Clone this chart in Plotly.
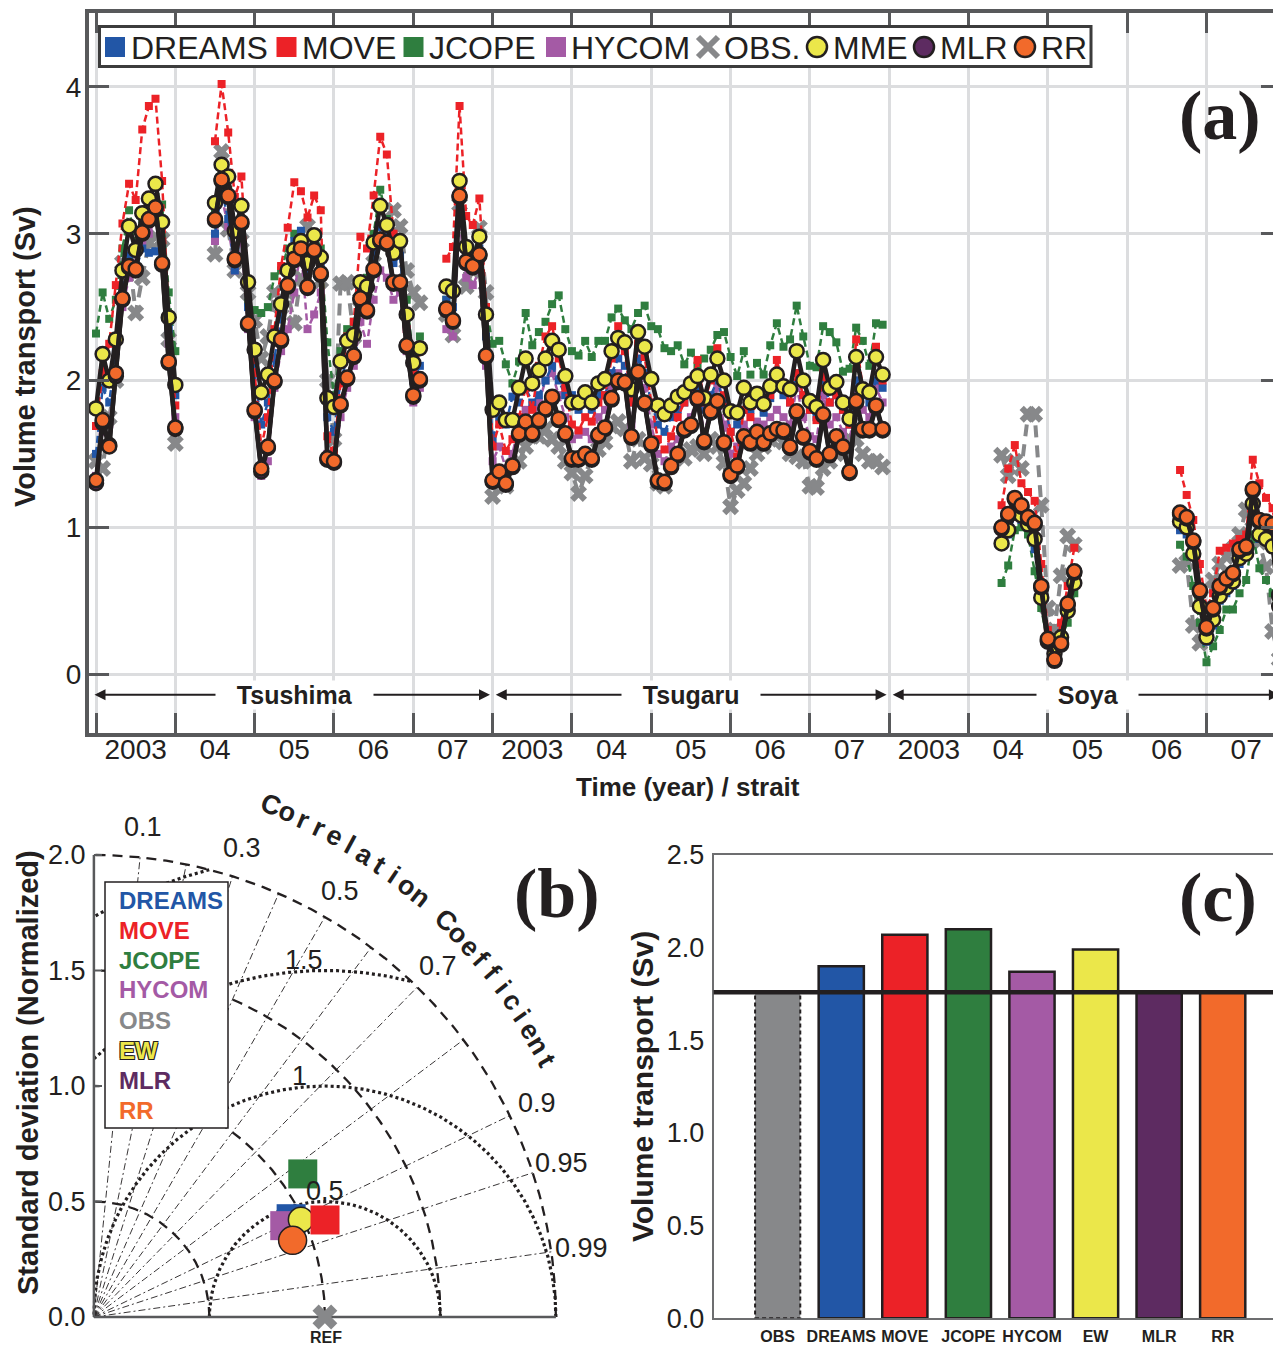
import math
import plotly.graph_objects as go

N = None
PAGE_W, PAGE_H = 1281, 1345
OFF = 8                      # default page margin of the html body
W, H = PAGE_W - OFF, PAGE_H - OFF
FONT = "Liberation Sans, Arial, Helvetica, sans-serif"
SERIF = "Liberation Serif, Times New Roman, serif"
INK = "#231f20"
AXIS_GRAY = "#58595b"
GRID_GRAY = "#dcdddf"

C_DREAMS = "#2256a6"
C_MOVE = "#ec2227"
C_JCOPE = "#2f7e3f"
C_HYCOM = "#a45aa5"
C_OBS = "#87888a"
C_MME = "#ebe74a"
C_MLR = "#5d2b61"
C_RR = "#f26a2b"

# ---------------- panel (a): monthly transports (Sv) ----------------
# month index: Tsushima 0-59, Tsugaru 60-119, Soya 120-179 (Jan 2003 - Dec 2007 each)
MONTHS = list(range(180))
YEAR_BOUNDARIES = [0, 12, 24, 36, 48, 60, 72, 84, 96, 108, 120, 132, 144, 156, 168]
YEAR_LABEL_POS = [6, 18, 30, 42, 54, 66, 78, 90, 102, 114, 126, 138, 150, 162, 174]
YEAR_LABELS = ["2003", "04", "05", "06", "07", "2003", "04", "05", "06", "07",
               "2003", "04", "05", "06", "07"]
STRAIT_NAMES = ["Tsushima", "Tsugaru", "Soya"]
STRAIT_MID = [30, 90, 150]
STRAIT_BOUNDS = [60, 120]

# --- Tsushima ---
RR_TSUSHIMA = [1.32, 1.73, 1.55, 2.05, 2.56, 2.78, 2.76, 3.01, 3.10, 3.18, 2.80, 2.13, 1.68] + [N] * 5 + \
    [3.10, 3.37, 3.26, 2.83, 3.08, 2.39, 1.80, 1.40, 1.55, 2.00, 2.28, 2.65, 2.83, 2.90, 2.64, 2.89,
     2.73, 1.47, 1.45, 1.84, 2.02, 2.17, 2.56, 2.48, 2.76, 2.96, 2.94, 2.67, 2.67, 2.24, 1.90, 2.01] + [N] * 3 + \
    [2.49, 2.41, 3.26, 2.81, 2.78, 2.86, 2.17]
MLR_TSUSHIMA = [1.30, 1.71, 1.56, 2.03, 2.55, 2.77, 2.75, 3.00, 3.09, 3.17, 2.79, 2.12, 1.67] + [N] * 5 + \
    [3.09, 3.36, 3.25, 2.82, 3.07, 2.38, 1.79, 1.38, 1.54, 1.99, 2.27, 2.64, 2.82, 2.89, 2.63, 2.88,
     2.72, 1.46, 1.44, 1.83, 2.01, 2.16, 2.55, 2.47, 2.75, 2.95, 2.93, 2.66, 2.66, 2.23, 1.89, 2.00] + [N] * 3 + \
    [2.48, 2.40, 3.25, 2.80, 2.77, 2.85, 2.16]
MME_TSUSHIMA = [1.81, 2.18, 2.00, 2.28, 2.75, 3.05, 2.89, 3.14, 3.24, 3.34, 3.08, 2.43, 1.97] + [N] * 5 + \
    [3.21, 3.47, 3.39, 3.02, 3.19, 2.67, 2.21, 1.92, 2.04, 2.30, 2.52, 2.75, 2.89, 2.95, 2.80, 2.99,
     2.84, 1.88, 1.82, 2.13, 2.27, 2.31, 2.67, 2.64, 2.94, 3.19, 3.06, 2.87, 2.95, 2.45, 2.12, 2.22] + [N] * 3 + \
    [2.64, 2.61, 3.36, 2.91, 2.80, 2.98, 2.45]
MOVE_TSUSHIMA = [1.69, 2.05, 2.25, 2.65, 3.07, 3.34, 3.23, 3.71, 3.87, 3.92, 3.36, 2.45, 1.83] + [N] * 5 + \
    [3.63, 4.02, 3.69, 3.25, 3.39, 2.65, 2.05, 1.55, 1.75, 2.35, 2.78, 3.04, 3.35, 3.29, 3.11, 3.26,
     3.16, 1.62, 1.52, 1.98, 2.30, 2.40, 2.98, 2.90, 3.26, 3.66, 3.54, 3.00, 2.95, 2.35, 2.05, 2.20] + [N] * 3 + \
    [2.83, 2.91, 3.87, 3.12, 3.06, 3.24, 2.50]
JCOPE_TSUSHIMA = [2.32, 2.60, 2.42, 2.55, 2.90, 3.16, 2.95, 3.10, 3.15, 3.25, 3.20, 2.60, 2.20] + [N] * 5 + \
    [3.15, 3.40, 3.30, 3.00, 3.10, 2.53, 2.48, 2.46, 2.50, 2.71, 2.75, 2.90, 3.00, 3.00, 2.85, 3.00,
     2.90, 2.26, 1.90, 2.20, 2.35, 2.40, 2.60, 2.70, 3.00, 3.30, 3.10, 2.90, 2.95, 2.55, 2.15, 2.30] + [N] * 3 + \
    [2.55, 2.60, 3.30, 2.90, 2.85, 3.00, 2.50]
DREAMS_TSUSHIMA = [1.50, 1.95, 1.85, 2.20, 2.60, 2.85, 2.75, 2.90, 2.87, 2.88, 2.85, 2.35, 1.90] + [N] * 5 + \
    [3.00, 3.30, 3.10, 2.75, 3.05, 2.50, 2.05, 1.70, 1.85, 2.15, 2.45, 2.70, 2.95, 3.02, 2.75, 2.95,
     2.80, 1.75, 1.65, 2.00, 2.15, 2.20, 2.60, 2.55, 2.85, 3.05, 3.00, 2.80, 2.85, 2.35, 2.00, 2.10] + [N] * 3 + \
    [2.55, 2.50, 3.20, 2.85, 2.75, 2.90, 2.30]
HYCOM_TSUSHIMA = [1.35, 1.65, 1.70, 2.05, 2.50, 2.70, 2.80, 2.95, 3.00, 3.10, 2.90, 2.25, 1.75] + [N] * 5 + \
    [2.95, 3.25, 3.05, 2.75, 2.95, 2.35, 1.75, 1.35, 1.45, 1.95, 2.20, 2.35, 2.60, 2.90, 2.35, 2.45,
     2.60, 1.50, 1.42, 1.75, 1.95, 2.10, 2.40, 2.25, 2.55, 2.75, 2.70, 2.55, 2.60, 2.20, 1.85, 1.95] + [N] * 3 + \
    [2.35, 2.30, 3.10, 2.70, 2.65, 2.75, 2.10]
OBS_TSUSHIMA = [1.45, 1.40, 1.75, 2.00, 2.80, 2.85, 2.46, 2.70, 2.94, 2.98, 2.96, 2.28, 1.57] + [N] * 5 + \
    [2.86, 3.56, 3.03, 2.75, 2.95, 2.60, 2.41, 2.15, 2.30, 2.60, 2.50, 2.60, 2.39, 2.70, 3.05, 2.95,
     2.68, 2.00, 1.60, 2.66, 2.67, 2.30, 2.55, 2.60, 2.80, 2.95, 3.05, 3.16, 3.05, 2.75, 2.60, 2.53] + [N] * 3 + \
    [2.45, 2.31, 3.20, 2.64, 2.75, 3.04, 2.60]

# --- Tsugaru ---
RR_TSUGARU = [1.32, 1.38, 1.30, 1.42, 1.64, 1.72, 1.64, 1.73, 1.81, 1.89, 1.74, 1.64, 1.47, 1.47, 1.50,
              1.47, 1.63, 1.68, 1.88, 2.00, 1.99, 1.62, 2.06, 1.85, 1.57, 1.32, 1.31, 1.42, 1.50, 1.67,
              1.70, 1.88, 1.59, 1.79, 1.86, 1.58, 1.36, 1.42, 1.62, 1.58, 1.65, 1.58, 1.64, 1.67, 1.66,
              1.55, 1.79, 1.62, 1.52, 1.47, 1.77, 1.50, 1.62, 1.55, 1.38, 1.86, 1.67, 1.67, 1.83, 1.67]
MLR_TSUGARU = [1.31, 1.37, 1.29, 1.41, 1.63, 1.71, 1.63, 1.72, 1.80, 1.88, 1.73, 1.63, 1.46, 1.46, 1.49,
               1.46, 1.62, 1.67, 1.87, 1.99, 1.98, 1.61, 2.05, 1.84, 1.56, 1.31, 1.30, 1.41, 1.49, 1.66,
               1.69, 1.87, 1.58, 1.78, 1.85, 1.57, 1.35, 1.41, 1.61, 1.57, 1.64, 1.57, 1.63, 1.66, 1.65,
               1.54, 1.78, 1.61, 1.51, 1.46, 1.76, 1.49, 1.61, 1.54, 1.37, 1.85, 1.66, 1.66, 1.82, 1.66]
MME_TSUGARU = [1.80, 1.85, 1.73, 1.73, 1.95, 2.15, 1.98, 2.07, 2.15, 2.27, 2.21, 2.03, 1.85, 1.85, 1.92,
               1.85, 1.98, 2.01, 2.20, 2.29, 2.26, 1.94, 2.33, 2.23, 2.01, 1.83, 1.77, 1.83, 1.89, 1.92,
               1.98, 2.03, 1.88, 2.04, 2.15, 2.00, 1.79, 1.78, 1.95, 1.85, 1.91, 1.84, 1.96, 2.04, 1.96,
               1.94, 2.20, 2.00, 1.86, 1.82, 2.14, 1.95, 1.99, 1.85, 1.74, 2.16, 1.94, 1.92, 2.16, 2.04]
MOVE_TSUGARU = [1.55, 1.70, 1.52, 1.60, 1.75, 1.95, 1.80, 2.10, 2.30, 2.37, 2.15, 1.95, 1.70, 1.66, 1.75,
                1.72, 1.85, 1.90, 2.15, 2.37, 2.20, 1.85, 2.25, 2.16, 1.85, 1.60, 1.53, 1.62, 1.75, 1.85,
                1.95, 2.14, 1.85, 2.00, 2.22, 1.90, 1.65, 1.48, 1.80, 1.75, 1.85, 1.82, 1.90, 2.14, 1.95,
                1.85, 2.05, 1.90, 1.80, 1.73, 2.05, 1.85, 1.90, 1.80, 1.70, 2.28, 1.95, 1.90, 2.23, 2.00]
JCOPE_TSUGARU = [2.25, 2.27, 2.11, 1.98, 2.13, 2.46, 2.24, 2.33, 2.40, 2.52, 2.58, 2.35, 2.20, 2.17, 2.27,
                 2.16, 2.27, 2.27, 2.43, 2.49, 2.41, 2.35, 2.46, 2.51, 2.37, 2.35, 2.22, 2.20, 2.24, 2.11,
                 2.19, 2.10, 2.15, 2.21, 2.31, 2.33, 2.16, 2.03, 2.20, 2.04, 2.12, 2.04, 2.24, 2.39, 2.23,
                 2.28, 2.51, 2.30, 2.10, 2.09, 2.37, 2.33, 2.26, 2.06, 2.08, 2.36, 2.27, 2.10, 2.39, 2.38]
DREAMS_TSUGARU = [1.60, 1.75, 1.70, 1.89, 1.85, 1.95, 1.85, 1.90, 2.00, 2.10, 2.00, 1.90, 1.90, 1.80, 1.85,
                  1.80, 1.90, 1.90, 2.05, 2.15, 2.10, 1.85, 2.15, 2.05, 1.85, 1.70, 1.65, 1.75, 1.80, 1.85,
                  1.95, 1.95, 1.80, 1.90, 2.00, 1.85, 1.65, 1.70, 1.80, 1.80, 1.85, 1.78, 1.88, 1.95, 1.90,
                  1.85, 2.05, 1.90, 1.80, 1.75, 2.00, 1.85, 1.90, 1.80, 1.70, 2.00, 1.90, 1.85, 2.00, 1.95]
HYCOM_TSUGARU = [1.45, 1.55, 1.40, 1.50, 1.70, 1.80, 1.72, 1.85, 2.00, 2.05, 1.90, 1.75, 1.60, 1.63, 1.65,
                 1.60, 1.75, 1.80, 1.95, 2.05, 2.00, 1.70, 2.05, 1.95, 1.70, 1.50, 1.45, 1.55, 1.60, 1.70,
                 1.75, 1.90, 1.65, 1.80, 1.95, 1.70, 1.50, 1.55, 1.70, 1.65, 1.72, 1.70, 1.75, 1.80, 1.75,
                 1.70, 1.95, 1.75, 1.62, 1.60, 1.90, 1.70, 1.75, 1.65, 1.55, 2.00, 1.80, 1.75, 1.95, 1.85]
OBS_TSUGARU = [1.21, 1.30, 1.28, 1.42, 1.45, 1.55, 1.62, 1.62, 1.67, 1.60, 1.55, 1.45, 1.37, 1.23, 1.35,
               1.49, 1.53, 1.58, 1.69, 1.72, 1.67, 1.45, 1.60, 1.47, 1.43, 1.30, 1.28, 1.43, 1.50, 1.47,
               1.53, 1.55, 1.50, 1.60, 1.55, 1.44, 1.14, 1.25, 1.30, 1.40, 1.50, 1.55, 1.60, 1.62, 1.58,
               1.50, 1.48, 1.45, 1.28, 1.27, 1.40, 1.45, 1.50, 1.52, 1.60, 1.60, 1.50, 1.45, 1.45, 1.41]

# --- Soya ---
RR_SOYA = [N] * 17 + [1.00, 1.09, 1.20, 1.15, 1.07, 1.03, 0.60, 0.24, 0.10, 0.21, 0.48, 0.70] + [N] * 15 + \
    [1.10, 1.07, 0.91, 0.57, 0.32, 0.45, 0.60, 0.65, 0.69, 0.85, 0.87, 1.26, 1.05, 1.04, 1.02, 0.54]
MLR_SOYA = [N] * 17 + [0.99, 1.08, 1.19, 1.14, 1.06, 1.02, 0.59, 0.23, 0.09, 0.20, 0.47, 0.69] + [N] * 15 + \
    [1.09, 1.06, 0.90, 0.56, 0.31, 0.44, 0.59, 0.64, 0.68, 0.84, 0.86, 1.25, 1.04, 1.03, 1.01, 0.53]
MME_SOYA = [N] * 17 + [0.89, 0.98, 1.10, 1.08, 1.02, 0.92, 0.52, 0.22, 0.14, 0.25, 0.43, 0.62] + [N] * 15 + \
    [1.04, 1.00, 0.82, 0.46, 0.25, 0.37, 0.53, 0.59, 0.63, 0.79, 0.82, 1.16, 0.95, 0.92, 0.87, 0.46]
MOVE_SOYA = [N] * 17 + [1.15, 1.40, 1.56, 1.30, 1.24, 1.18, 0.75, 0.30, 0.15, 0.35, 0.60, 0.86] + [N] * 15 + \
    [1.39, 1.22, 1.05, 0.75, 0.45, 0.55, 0.84, 0.86, 0.89, 0.92, 0.95, 1.46, 1.30, 1.20, 1.13, 0.80]
JCOPE_SOYA = [N] * 17 + [0.62, 0.74, 0.98, 1.00, 0.95, 0.70, 0.45, 0.20, 0.18, 0.25, 0.35, 0.55] + [N] * 15 + \
    [0.88, 0.80, 0.60, 0.35, 0.08, 0.19, 0.30, 0.44, 0.44, 0.55, 0.64, 0.95, 0.72, 0.64, 0.55, 0.30]
DREAMS_SOYA = [N] * 17 + [0.90, 0.95, 1.08, 1.05, 1.00, 0.85, 0.50, 0.25, 0.15, 0.28, 0.45, 0.65] + [N] * 15 + \
    [0.98, 0.95, 0.80, 0.45, 0.22, 0.33, 0.50, 0.55, 0.60, 0.75, 0.80, 1.10, 0.92, 0.90, 0.85, 0.45]
HYCOM_SOYA = [N] * 17 + [0.95, 1.05, 1.15, 1.12, 1.05, 0.95, 0.55, 0.25, 0.12, 0.22, 0.50, 0.72] + [N] * 15 + \
    [1.00, 0.98, 0.85, 0.50, 0.28, 0.40, 0.55, 0.60, 0.65, 0.80, 0.85, 1.20, 1.00, 0.98, 0.95, 0.50]
OBS_SOYA = [N] * 17 + [1.49, 1.35, 1.45, 1.40, 1.77, 1.77, 1.15, 0.45, 0.30, 0.67, 0.94, 0.88] + [N] * 15 + \
    [0.74, 0.76, 0.33, 0.21, 0.45, 0.64, 0.75, 0.80, 0.85, 0.95, 1.12, 1.05, 0.90, 0.73, 0.29, 0.10]

# ---------------- panel (b): Taylor diagram ----------------
TAYLOR_MODELS = ["DREAMS", "HYCOM", "EW", "MOVE", "JCOPE", "MLR", "RR"]  # drawing order
TAYLOR_STD = [0.954, 0.916, 0.990, 1.085, 1.096, 0.922, 0.922]
TAYLOR_CORR = [0.895, 0.902, 0.905, 0.922, 0.825, 0.933, 0.933]
REF_STD = 1.0
STD_GRID = [0.5, 1.0, 1.5, 2.0]
RMS_GRID = [0.5, 1.0, 1.5, 2.0]
RMS_LABELS = ["0.5", "1", "1.5"]
CORR_GRID = [0.1, 0.2, 0.3, 0.4, 0.5, 0.6, 0.7, 0.8, 0.9, 0.95, 0.99]
CORR_LABELS = ["0.1", "0.3", "0.5", "0.7", "0.9", "0.95", "0.99"]
STD_TICKS = [0.0, 0.5, 1.0, 1.5, 2.0]
TAYLOR_LEGEND = ["DREAMS", "MOVE", "JCOPE", "HYCOM", "OBS", "EW", "MLR", "RR"]

# ---------------- panel (c): mean transport ----------------
BAR_LABELS = ["OBS", "DREAMS", "MOVE", "JCOPE", "HYCOM", "EW", "MLR", "RR"]
BAR_VALUES = [1.76, 1.90, 2.07, 2.10, 1.87, 1.99, 1.76, 1.76]

COLORS = {"DREAMS": C_DREAMS, "MOVE": C_MOVE, "JCOPE": C_JCOPE, "HYCOM": C_HYCOM,
          "OBS": C_OBS, "EW": C_MME, "MME": C_MME, "MLR": C_MLR, "RR": C_RR}

for arr in [RR_TSUSHIMA, MLR_TSUSHIMA, MME_TSUSHIMA, MOVE_TSUSHIMA, JCOPE_TSUSHIMA, DREAMS_TSUSHIMA,
            HYCOM_TSUSHIMA, OBS_TSUSHIMA, RR_TSUGARU, MLR_TSUGARU, MME_TSUGARU, MOVE_TSUGARU,
            JCOPE_TSUGARU, DREAMS_TSUGARU, HYCOM_TSUGARU, OBS_TSUGARU, RR_SOYA, MLR_SOYA, MME_SOYA,
            MOVE_SOYA, JCOPE_SOYA, DREAMS_SOYA, HYCOM_SOYA, OBS_SOYA]:
    assert len(arr) == 60, len(arr)


def px(x):
    """page pixel x -> paper fraction"""
    return (x - OFF) / W


def py(y):
    """page pixel y -> paper fraction"""
    return 1 - (y - OFF) / H


fig = go.Figure()


def ts(y, lcolor, lwidth, ldash, symbol, msize, mcolor, mline_color=None, mline_width=0):
    fig.add_trace(go.Scatter(
        x=MONTHS, y=y, mode="lines+markers", connectgaps=False,
        line=dict(color=lcolor, width=lwidth, dash=ldash),
        marker=dict(symbol=symbol, size=msize, color=mcolor,
                    line=dict(color=mline_color or mcolor, width=mline_width)),
        xaxis="x", yaxis="y", showlegend=False, hoverinfo="skip"))


ts(OBS_TSUSHIMA + OBS_TSUGARU + OBS_SOYA, C_OBS, 4, "12px,8px", "x", 15, C_OBS)
ts(JCOPE_TSUSHIMA + JCOPE_TSUGARU + JCOPE_SOYA, C_JCOPE, 2.5, "7px,4px", "square", 8, C_JCOPE)
ts(HYCOM_TSUSHIMA + HYCOM_TSUGARU + HYCOM_SOYA, C_HYCOM, 2.5, "7px,4px", "square", 8, C_HYCOM)
ts(DREAMS_TSUSHIMA + DREAMS_TSUGARU + DREAMS_SOYA, C_DREAMS, 2.5, "7px,4px", "square", 8, C_DREAMS)
ts(MOVE_TSUSHIMA + MOVE_TSUGARU + MOVE_SOYA, C_MOVE, 2.5, "7px,4px", "square", 8, C_MOVE)
ts(MME_TSUSHIMA + MME_TSUGARU + MME_SOYA, INK, 4.5, "solid", "circle", 14, C_MME, INK, 2.5)
ts(MLR_TSUSHIMA + MLR_TSUGARU + MLR_SOYA, INK, 4.5, "solid", "circle", 14, C_MLR, INK, 2.5)
ts(RR_TSUSHIMA + RR_TSUGARU + RR_SOYA, INK, 4.5, "solid", "circle", 14, C_RR, INK, 2.5)

# dummy trace so the year-label axis is drawn
fig.add_trace(go.Scatter(x=YEAR_LABEL_POS, y=[N] * len(YEAR_LABEL_POS), mode="markers",
                         xaxis="x2", yaxis="y", showlegend=False, hoverinfo="skip"))


# ---------------- Taylor diagram geometry ----------------
def tline(xs, ys, color=INK, width=1.0, dash="solid"):
    fig.add_trace(go.Scatter(x=xs, y=ys, mode="lines", line=dict(color=color, width=width, dash=dash),
                             xaxis="x3", yaxis="y3", showlegend=False, hoverinfo="skip"))


for c in CORR_GRID:
    s = math.sqrt(1 - c * c)
    tline([0, 2.0 * c], [0, 2.0 * s], INK, 0.9, "7px,3px,2px,3px")

for r in STD_GRID:
    angs = [math.radians(a * 0.5) for a in range(0, 181)]
    tline([r * math.cos(a) for a in angs], [r * math.sin(a) for a in angs], INK, 2.3, "10px,7px")

for R in RMS_GRID:
    xs, ys = [], []
    for k in range(0, 721):
        phi = math.radians(k * 0.25)
        x = REF_STD + R * math.cos(phi)
        y = R * math.sin(phi)
        if x >= -1e-9 and x * x + y * y <= 4.0 + 1e-9:
            xs.append(x)
            ys.append(y)
    tline(xs, ys, INK, 3.2, "3px,3px")

tline([0, 0], [0, 2.0], AXIS_GRAY, 2.5)
tline([0, 2.0], [0, 0], AXIS_GRAY, 2.5)
for v in STD_TICKS:
    tline([0, 0.035], [v, v], AXIS_GRAY, 2)

# markers
for name, s, c in zip(TAYLOR_MODELS, TAYLOR_STD, TAYLOR_CORR):
    circle = name in ("EW", "MLR", "RR")
    size = {"EW": 25, "MLR": 27, "RR": 28}.get(name, 29)
    fig.add_trace(go.Scatter(
        x=[s * c], y=[s * math.sqrt(1 - c * c)], mode="markers",
        marker=dict(symbol="circle" if circle else "square", size=size, color=COLORS[name],
                    line=dict(color=INK, width=1.5 if circle else 0)),
        xaxis="x3", yaxis="y3", showlegend=False, hoverinfo="skip"))
fig.add_trace(go.Scatter(x=[REF_STD], y=[0], mode="markers",
                         marker=dict(symbol="x", size=22, color=C_OBS),
                         xaxis="x3", yaxis="y3", showlegend=False, hoverinfo="skip", cliponaxis=False))

# ---------------- bar chart ----------------
fig.add_trace(go.Bar(
    x=BAR_LABELS, y=BAR_VALUES, width=0.711,
    marker=dict(color=[COLORS[b] for b in BAR_LABELS],
                line=dict(color=INK, width=[0] + [2.5] * (len(BAR_LABELS) - 1))),
    xaxis="x4", yaxis="y4", showlegend=False, hoverinfo="skip"))

# ---------------- layout ----------------
XR_A = [-1.06, 179.27]
tickfont = dict(family=FONT, size=28, color=INK)
TAY_SCALE = 231.0
TAY_X0, TAY_Y0 = 93.9, 1317.0  # page pixel of the Taylor origin
fig.update_layout(
    width=W, height=H, margin=dict(l=0, r=0, t=0, b=0, autoexpand=False),
    paper_bgcolor="white", plot_bgcolor="white", showlegend=False,
    xaxis=dict(domain=[px(89), 1.0], range=XR_A, tickvals=YEAR_BOUNDARIES, showticklabels=False,
               ticks="inside", ticklen=20, tickwidth=3, tickcolor=AXIS_GRAY,
               showgrid=True, gridcolor=GRID_GRAY, gridwidth=3,
               showline=True, linecolor=AXIS_GRAY, linewidth=4, mirror="ticks",
               zeroline=False, anchor="y", automargin=False),
    xaxis2=dict(overlaying="x", anchor="y", side="bottom", range=XR_A,
                tickvals=YEAR_LABEL_POS, ticktext=YEAR_LABELS, ticks="", tickangle=0,
                showgrid=False, showline=False, zeroline=False, tickfont=tickfont,
                ticklabelstandoff=-3, automargin=False),
    yaxis=dict(domain=[py(733.3), py(13.3)], range=[-0.404, 4.502], tickvals=[0, 1, 2, 3, 4],
               ticks="inside", ticklen=20, tickwidth=3, tickcolor=AXIS_GRAY,
               showgrid=True, gridcolor=GRID_GRAY, gridwidth=3,
               showline=True, linecolor=AXIS_GRAY, linewidth=4, mirror="ticks",
               zeroline=False, tickfont=tickfont, ticklabelstandoff=-2, anchor="x",
               automargin=False),
    xaxis3=dict(domain=[px(OFF), px(650)],
                range=[(OFF - TAY_X0) / TAY_SCALE, (650 - TAY_X0) / TAY_SCALE],
                visible=False, anchor="y3", automargin=False),
    yaxis3=dict(domain=[py(PAGE_H), py(790)],
                range=[(TAY_Y0 - PAGE_H) / TAY_SCALE, (TAY_Y0 - 790) / TAY_SCALE],
                visible=False, anchor="x3", automargin=False),
    xaxis4=dict(domain=[px(713.6), 1.0], range=[-1.008, 7.917], anchor="y4",
                tickvals=BAR_LABELS, ticktext=["<b>%s</b>" % b for b in BAR_LABELS],
                tickfont=dict(family=FONT, size=16, color=INK), ticks="", tickangle=0,
                showline=True, linecolor="#6d6e70", linewidth=2, mirror=True,
                showgrid=False, zeroline=False, automargin=False, ticklabelstandoff=2),
    yaxis4=dict(domain=[py(1318.3), py(855)], range=[0, 2.5],
                tickvals=[0, 0.5, 1.0, 1.5, 2.0, 2.5],
                ticktext=["0.0", "0.5", "1.0", "1.5", "2.0", "2.5"],
                tickfont=dict(family=FONT, size=27, color=INK), ticks="",
                showline=True, linecolor="#6d6e70", linewidth=2, mirror=False,
                showgrid=False, zeroline=False, ticklabelstandoff=2, anchor="x4",
                automargin=False),
)

shapes = []
annots = []

# strait boundaries
for b in STRAIT_BOUNDS:
    shapes.append(dict(type="line", xref="x", yref="y domain", x0=b, x1=b, y0=0, y1=1,
                       line=dict(color=INK, width=1.5, dash="5px,4px"), layer="below"))

# panel (a) legend
shapes.append(dict(type="rect", xref="paper", yref="paper", x0=px(99.5), x1=px(1091),
                   y0=py(66.5), y1=py(26.5), fillcolor="white",
                   line=dict(color="#3c3c3c", width=3), layer="above"))
LEG_A = [("DREAMS", "DREAMS", "sq", 115, 129), ("MOVE", "MOVE", "sq", 286.5, 300),
         ("JCOPE", "JCOPE", "sq", 413.5, 427), ("HYCOM", "HYCOM", "sq", 556, 569),
         ("OBS", "OBS.", "x", 708, 722), ("MME", "MME", "ci", 817, 831),
         ("MLR", "MLR", "ci", 924, 938), ("RR", "RR", "ci", 1025, 1039)]
LY = 47
for key, label, kind, cx, tx in LEG_A:
    if kind == "sq":
        shapes.append(dict(type="rect", xref="paper", yref="paper", x0=px(cx - 10), x1=px(cx + 10),
                           y0=py(LY + 10), y1=py(LY - 10), fillcolor=COLORS[key],
                           line=dict(width=0), layer="above"))
    elif kind == "ci":
        shapes.append(dict(type="circle", xref="paper", yref="paper", x0=px(cx - 10), x1=px(cx + 10),
                           y0=py(LY + 10), y1=py(LY - 10), fillcolor=COLORS[key],
                           line=dict(color=INK, width=2.5), layer="above"))
    else:
        for d in (1, -1):
            shapes.append(dict(type="line", xref="paper", yref="paper", x0=px(cx - 10), x1=px(cx + 10),
                               y0=py(LY - 10 * d), y1=py(LY + 10 * d),
                               line=dict(color=C_OBS, width=6), layer="above"))
    annots.append(dict(text=label, xref="paper", yref="paper", x=px(tx), y=py(LY + 1),
                       xanchor="left", yanchor="middle", showarrow=False,
                       font=dict(family=FONT, size=32, color=INK)))

# strait arrows and labels
ARROW_Y = -0.142
ARROW_SPANS = [(-0.45, 59.6), (60.25, 119.6), (120.3, 179.1)]
for (a0, a1), name, mid in zip(ARROW_SPANS, STRAIT_NAMES, STRAIT_MID):
    annots.append(dict(text="", x=a1, y=ARROW_Y, ax=a0, ay=ARROW_Y, xref="x", yref="y",
                       axref="x", ayref="y", showarrow=True, arrowhead=2, arrowside="end+start",
                       arrowsize=1.1, arrowwidth=2, arrowcolor=INK, standoff=0, startstandoff=0))
    annots.append(dict(text="\u00a0\u00a0\u00a0<b>%s</b>\u00a0\u00a0\u00a0" % name, x=mid, y=ARROW_Y,
                       xref="x", yref="y", showarrow=False, bgcolor="white",
                       font=dict(family=FONT, size=25, color=INK), borderpad=0))

# axis titles panel (a)
annots.append(dict(text="<b>Volume transport (Sv)</b>", xref="paper", yref="paper", x=px(25), y=py(357),
                   textangle=-90, showarrow=False, font=dict(family=FONT, size=29, color=INK)))
annots.append(dict(text="<b>Time (year) / strait</b>", xref="paper", yref="paper", x=px(688), y=py(787),
                   showarrow=False, font=dict(family=FONT, size=26, color=INK)))
annots.append(dict(text="<b>(a)</b>", xref="paper", yref="paper", x=px(1220), y=py(116),
                   showarrow=False, font=dict(family=SERIF, size=70, color=INK)))

# ---- Taylor annotations ----
for v in STD_TICKS:
    annots.append(dict(text="%.1f" % v, x=-0.025, y=v, xref="x3", yref="y3", xanchor="right",
                       showarrow=False, font=dict(family=FONT, size=27, color=INK)))
for lab in CORR_LABELS:
    c = float(lab)
    r = 2.13
    annots.append(dict(text=lab, x=r * c, y=r * math.sqrt(1 - c * c), xref="x3", yref="y3",
                       showarrow=False, font=dict(family=FONT, size=27, color=INK)))
RMS_LABEL_X = [1.0, 0.89, 0.91]
for lab, lx in zip(RMS_LABELS, RMS_LABEL_X):
    annots.append(dict(text=lab, x=lx, y=float(lab) + 0.045, xref="x3", yref="y3",
                       showarrow=False, font=dict(family=FONT, size=27, color=INK)))
annots.append(dict(text="<b>REF</b>", x=REF_STD + 0.005, y=-0.09, xref="x3", yref="y3",
                   showarrow=False, font=dict(family=FONT, size=16, color=INK)))
annots.append(dict(text="<b>Standard deviation (Normalized)</b>", xref="paper", yref="paper",
                   x=px(28), y=py(1073), textangle=-90, showarrow=False,
                   font=dict(family=FONT, size=29, color=INK)))
TITLE_B = "Correlation Coefficient"
for k, ch in enumerate(TITLE_B):
    if ch == " ":
        continue
    th = 70.9 - 1.882 * k
    r = 2.345 - 0.0042 * k
    annots.append(dict(text="<b>%s</b>" % ch, x=r * math.cos(math.radians(th)),
                       y=r * math.sin(math.radians(th)), xref="x3", yref="y3",
                       textangle=90 - th, showarrow=False,
                       font=dict(family=FONT, size=27, color=INK)))
annots.append(dict(text="<b>(b)</b>", xref="paper", yref="paper", x=px(557), y=py(893),
                   showarrow=False, font=dict(family=SERIF, size=70, color=INK)))

# Taylor legend
shapes.append(dict(type="rect", xref="paper", yref="paper", x0=px(105), x1=px(228),
                   y0=py(1128), y1=py(882), fillcolor="white",
                   line=dict(color=INK, width=1.5), layer="above"))
for i, name in enumerate(TAYLOR_LEGEND):
    f = dict(family=FONT, size=24, color=COLORS[name])
    if name == "EW":
        f["shadow"] = "1px 1px 0 #231f20, -1px -1px 0 #231f20, 1px -1px 0 #231f20, -1px 1px 0 #231f20"
    annots.append(dict(text="<b>%s</b>" % name, xref="paper", yref="paper", x=px(117),
                       y=py(900 + 30 * i), xanchor="left", showarrow=False, font=f))

# ---- bar chart extras ----
shapes.append(dict(type="rect", xref="x4", yref="y4", x0=-0.3555, x1=0.3555, y0=0, y1=BAR_VALUES[0],
                   line=dict(color=INK, width=2, dash="4px,3px"), layer="above"))
shapes.append(dict(type="line", xref="x4 domain", yref="y4", x0=0, x1=1, y0=BAR_VALUES[0],
                   y1=BAR_VALUES[0], line=dict(color=INK, width=4.5), layer="above"))
annots.append(dict(text="<b>Volume transport (Sv)</b>", xref="paper", yref="paper", x=px(642), y=py(1087),
                   textangle=-90, showarrow=False, font=dict(family=FONT, size=30, color=INK)))
annots.append(dict(text="<b>(c)</b>", xref="paper", yref="paper", x=px(1218), y=py(898),
                   showarrow=False, font=dict(family=SERIF, size=70, color=INK)))

for a in annots:
    a.setdefault("xanchor", "center")
    a.setdefault("yanchor", "middle")

fig.update_layout(shapes=shapes, annotations=annots)
fig.write_html("out.html")
